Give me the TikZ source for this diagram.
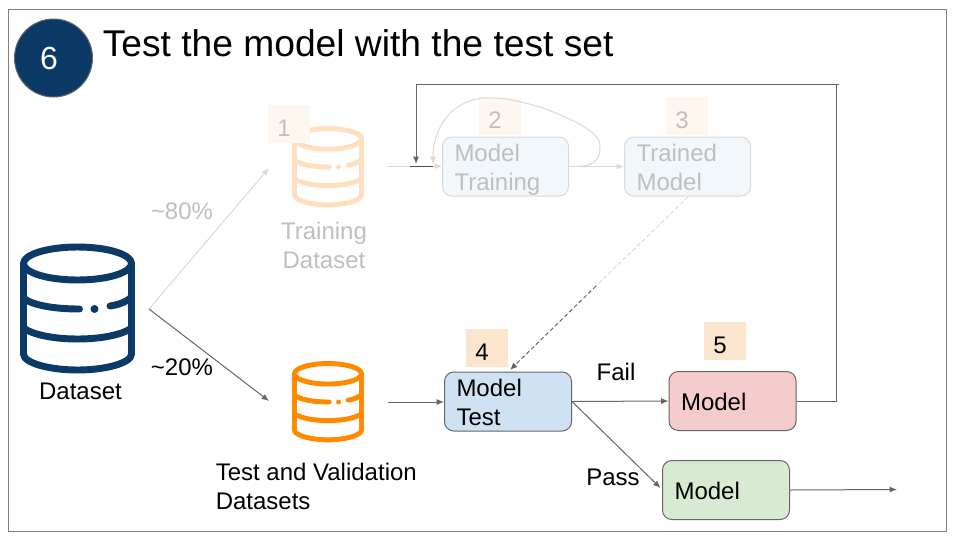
\documentclass[tikz,border=0pt]{standalone}
\usepackage{fontspec}
\setmainfont{Liberation Sans}
\usetikzlibrary{arrows.meta}
\definecolor{navy}{HTML}{0B3A66}
\definecolor{darkline}{HTML}{666666}
\definecolor{fadeline}{HTML}{D9D9D9}
\definecolor{fadetext}{HTML}{BFBFBF}
\definecolor{fadeorange}{HTML}{FFDFBF}
\definecolor{orangeicon}{HTML}{FF8A00}
\definecolor{fadesquare}{HTML}{FEF7F0}
\definecolor{square}{HTML}{FCE5CD}
\definecolor{fadebox}{HTML}{F2F7FB}
\tikzset{
  txt/.style={inner sep=0pt,font=\fontsize{18pt}{21.6pt}\selectfont,align=left},
  faded/.style={text=fadetext},
  link/.style={draw=darkline,line width=0.75pt,-{Latex[length=5.5pt,width=4.5pt]}},
  fadelink/.style={draw=fadeline,line width=0.75pt,-{Latex[length=5.5pt,width=4.5pt]}},
  stepbox/.style={rounded corners=7pt,line width=0.75pt,minimum width=95.25pt,minimum height=44.25pt,
    inner xsep=9pt,inner ysep=0pt,text width=77.25pt,align=left,font=\fontsize{18pt}{21.6pt}\selectfont},
  numsq/.style={minimum width=31.5pt,minimum height=28.5pt,inner sep=0pt,font=\fontsize{18pt}{21.6pt}\selectfont},
  iconbox/.style={inner sep=0pt,minimum size=1pt},
}
\newcommand{\numtxt}[1]{\smash{\raisebox{-9.5pt}{\makebox[0pt]{\kern-7.5pt #1}}}}
\newcommand{\twolines}[2]{\rule{0pt}{18.5pt}#1\\#2\rule[-3.95pt]{0pt}{3.95pt}}
\newcommand{\oneline}[1]{\rule{0pt}{18pt}#1\rule[-4.5pt]{0pt}{4.5pt}}
\newcommand{\dbicon}[5]{%
  \begin{scope}[shift={(#1,#2)},scale=#3,draw=#4,line width=#5,line cap=round,line join=round]
    \draw (0,-45.5) ellipse [x radius=54,y radius=16.5];
    \draw (-54,-45.5) -- (-54,45) .. controls (-54,54) and (-28,61) .. (0,61)
          .. controls (28,61) and (54,54) .. (54,45) -- (54,-45.5);
    \draw (-54,-11) .. controls (-46,-4) and (-24,0) .. (2,0);
    \draw (32.5,-3) .. controls (40,-4) and (49,-7) .. (54,-12);
    \draw (-54,19) .. controls (-46,25) and (-26,30) .. (0,30)
          .. controls (26,30) and (46,25) .. (54,19);
    \fill[#4] (17,0) circle [radius=4];
  \end{scope}}
\begin{document}
\begin{tikzpicture}[x=0.75pt,y=-0.75pt]
\useasboundingbox (0,0) rectangle (960,540);
\fill[white] (0,0) rectangle (960,540);
\draw[draw=gray,line width=0.75pt] (8.5,9.5) rectangle (946.5,531.5);

% header
\node[circle,fill=navy,draw=darkline,line width=0.75pt,minimum size=58.5pt,inner sep=0pt,text=white,
  font=\fontsize{24pt}{28pt}\selectfont] (badge) at (53.5,58) {\kern-6.8pt 6};
\node[txt,anchor=base west,font=\fontsize{27.9pt}{33pt}\selectfont] (title) at (102.5,56) {Test the model with the test set};

% icons
\node[iconbox] (dataset) at (77.5,309) {};
\dbicon{77.5}{309}{1}{navy}{5.2pt}
\node[txt,anchor=base] (datasetlbl) at (80.5,399) {Dataset};

\node[iconbox] (traindb) at (328,167) {};
\dbicon{328}{167}{0.62}{fadeorange}{3.7pt}
\node[iconbox] (testdb) at (328,402) {};
\dbicon{328}{402}{0.62}{orangeicon}{3.7pt}

\node[txt,faded,anchor=base,align=center] (trainlbl) at (324,268) {Training\\Dataset};
\node[txt,anchor=base west] (testlbl) at (215.5,509) {Test and Validation\\Datasets};

% number squares
\node[numsq,fill=fadesquare,text=fadetext] (n1) at (289,123.5) {\numtxt{1}};
\node[numsq,fill=fadesquare,text=fadetext] (n2) at (500,116) {\numtxt{2}};
\node[numsq,fill=fadesquare,text=fadetext] (n3) at (687,116) {\numtxt{3}};
\node[numsq,fill=square] (n4) at (487,348) {\numtxt{4}};
\node[numsq,fill=square] (n5) at (725,341) {\numtxt{5}};

% boxes
\node[stepbox,draw=fadeline,fill=fadebox,text=fadetext,minimum width=94.5pt,text width=76.5pt] (training) at (505.5,166.5) {\twolines{Model}{Training}};
\node[stepbox,draw=fadeline,fill=fadebox,text=fadetext,minimum width=94.5pt,text width=76.5pt] (trained) at (687.5,166.5) {\twolines{Trained}{Model}};
\node[stepbox,draw=darkline,fill={rgb,255:red,207;green,226;blue,243}] (test) at (508,401.5) {\twolines{Model}{Test}};
\node[stepbox,draw=darkline,fill={rgb,255:red,244;green,204;blue,204}] (redmodel) at (732.5,401) {\oneline{Model}};
\node[stepbox,draw=darkline,fill={rgb,255:red,217;green,234;blue,211}] (greenmodel) at (726,490) {\oneline{Model}};

% labels
\node[txt,faded,anchor=base] (p80) at (182,219) {\textasciitilde80\%};
\node[txt,anchor=base] (p20) at (182,375) {\textasciitilde20\%};
\node[txt,anchor=base] (fail) at (616,380) {Fail};
\node[txt,anchor=base] (pass) at (613,485) {Pass};

% free ends
\coordinate (split) at (149,309);
\coordinate (trainend) at (269,168);
\coordinate (testend) at (269,401);
\coordinate (teststart) at (388,402);
\coordinate (inleft) at (387,166);
\coordinate (dashmid) at (596,286);
\coordinate (dashend) at (510,370);
\coordinate (dashstart) at (688,197);
\coordinate (corner) at (836,84);
\coordinate (cornerb) at (836,401);
\coordinate (topleft) at (416,84);
\coordinate (feedend) at (416,164);
\coordinate (greenend) at (897,489.5);
\coordinate (passend) at (660.5,488);
\coordinate (barl) at (410,166);
\coordinate (barr) at (433,166);

% connectors
\draw[fadelink] (split) -- (trainend);
\draw[link] (split) -- (testend);
\draw[link] (teststart) -- (test.west |- teststart);
\draw[link] (test.east) -- (redmodel.west);
\draw[link] (test.east) -- (passend);
\draw[link] (greenmodel.east) -- (greenend);
\draw[fadelink] (inleft) -- (training.west |- inleft);
\draw[fadelink] (training.east) -- (trained.west);
\draw[draw=fadeline,line width=0.75pt,densely dashed] (dashstart) -- (dashmid);
\draw[draw=darkline,line width=0.75pt,densely dashed,-{Latex[length=5.5pt,width=4.5pt]}] (dashmid) -- (dashend);
\draw[draw=fadeline,line width=0.75pt,-{Latex[length=5.5pt,width=4.5pt]}]
  (training.east) .. controls (590,166) and (600,166) .. (600,145)
  .. controls (600,132) and (570,118) .. (543,108)
  .. controls (520,101) and (500,97) .. (487,98)
  .. controls (455,98) and (433,125) .. (433,164);
\draw[draw=black!70,line width=0.75pt] (barl) -- (barr);
\draw[link] (redmodel.east) -- (cornerb) -- (corner) -- (topleft) -- (feedend);
\draw[draw=darkline,line width=0.5pt] (corner) -- ++(3,0);
\end{tikzpicture}
\end{document}
